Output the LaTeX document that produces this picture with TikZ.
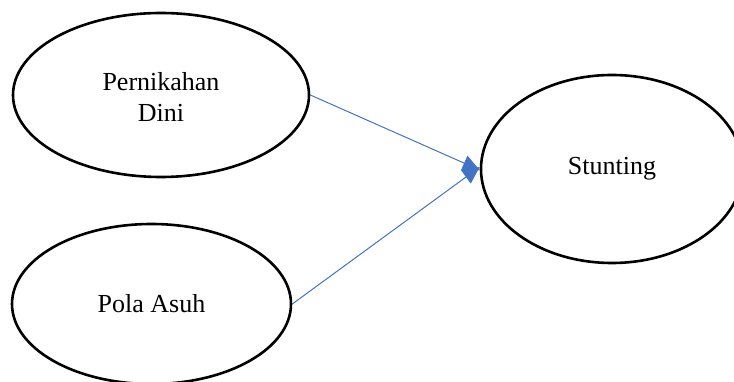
\documentclass[tikz,border=0pt]{standalone}
\usepackage{fontspec}
\setmainfont{Liberation Serif}
\usetikzlibrary{shapes.geometric,arrows.meta}
\definecolor{linkblue}{HTML}{4472C4}
\tikzset{
  factor/.style={ellipse, draw=black, line width=2.6pt, inner sep=0pt,
    align=center, font=\fontsize{26}{31}\selectfont},
  link/.style={draw=linkblue, line width=1pt,
    -{Triangle[length=17pt,width=16pt]}}
}
\begin{document}
\begin{tikzpicture}[x=1pt,y=-1pt]
  \useasboundingbox (0,0) rectangle (734,382);
  \node[factor, minimum width=296pt, minimum height=164pt] (pd) at (161,95)
    {\strut Pernikahan\\Dini};
  \node[factor, minimum width=279pt, minimum height=160pt] (pa) at (151.5,304)
    {Pola Asuh};
  \node[factor, minimum width=262pt, minimum height=188pt] (st) at (612,169)
    {Stunting};
  \coordinate (st1) at ([yshift=-1pt]st.west);
  \coordinate (st2) at ([yshift=2pt]st.west);
  \draw[link] (pd.east) -- (st1);
  \draw[link] (pa.east) -- (st2);
\end{tikzpicture}
\end{document}
